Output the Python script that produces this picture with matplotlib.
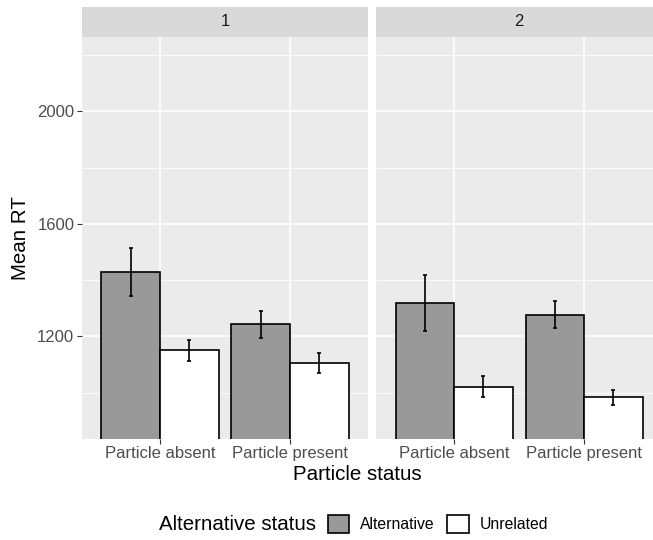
import numpy as np
import matplotlib.pyplot as plt
from matplotlib.patches import Patch

plt.rcParams['font.family'] = ['Liberation Sans', 'DejaVu Sans']

# data
particle = ['Particle absent', 'Particle present']
panels = ['1', '2']
groups = ['Alternative', 'Unrelated']
alt_mean = [[1428, 1243], [1319, 1277]]
alt_err = [[85, 48], [101, 48]]
unr_mean = [[1150, 1106], [1021, 983]]
unr_err = [[36, 35], [37, 26]]
y_ticks = [1200, 1600, 2000]
y_minor = [1000, 1400, 1800, 2200]

W, H = 653, 540
fig = plt.figure(figsize=(W / 100, H / 100), dpi=100)


def rect(x0, y0, x1, y1):
    return [x0 / W, 1 - y1 / H, (x1 - x0) / W, (y1 - y0) / H]


panel_x = [(82, 368), (376, 662)]
x = np.arange(1, len(particle) + 1)
bw = 0.45

for i, (px0, px1) in enumerate(panel_x):
    ax = fig.add_axes(rect(px0, 37, px1, 439))
    ax.set_facecolor('#EBEBEB')
    ax.set_xlim(0.4, 2.6)
    ax.set_ylim(835, 2265)
    ax.set_yticks(y_ticks)
    ax.set_yticks(y_minor, minor=True)
    ax.set_xticks(x)
    ax.grid(True, which='major', color='white', linewidth=1.1)
    ax.grid(True, which='minor', axis='y', color='white', linewidth=0.55)
    ax.set_axisbelow(True)
    for s in ax.spines.values():
        s.set_visible(False)
    ax.bar(x - bw / 2, alt_mean[i], width=bw, color='#999999',
           edgecolor='black', linewidth=1.2, zorder=2)
    ax.bar(x + bw / 2, unr_mean[i], width=bw, color='white',
           edgecolor='black', linewidth=1.2, zorder=2)
    ax.errorbar(x - bw / 2, alt_mean[i], yerr=alt_err[i], fmt='none',
                ecolor='black', elinewidth=1.2, capsize=1.6, capthick=1.2, zorder=3)
    ax.errorbar(x + bw / 2, unr_mean[i], yerr=unr_err[i], fmt='none',
                ecolor='black', elinewidth=1.2, capsize=1.6, capthick=1.2, zorder=3)
    ax.set_xticklabels(particle, fontsize=12, color='#4D4D4D')
    ax.tick_params(axis='both', which='major', color='#333333', length=3.5, width=0.8)
    ax.tick_params(axis='y', which='minor', length=0)
    ax.tick_params(axis='x', pad=1.5)
    ax.tick_params(axis='y', pad=2)
    if i == 0:
        ax.set_yticklabels([str(t) for t in y_ticks], fontsize=12, color='#4D4D4D')
    else:
        ax.tick_params(axis='y', which='major', length=0, labelleft=False)

    # facet strip
    sx = fig.add_axes(rect(px0, 7, px1, 37))
    sx.set_facecolor('#D9D9D9')
    sx.set_xticks([])
    sx.set_yticks([])
    for s in sx.spines.values():
        s.set_visible(False)
    sx.text(0.5, 0.5, panels[i], ha='center', va='center', fontsize=12,
            color='#1A1A1A', transform=sx.transAxes)

fig.text(20 / W, 1 - 238 / H, 'Mean RT', rotation=90, ha='center', va='center',
         fontsize=14.8)
fig.text(357 / W, 1 - 475 / H, 'Particle status', ha='center', va='center',
         fontsize=14.8)

# legend
fig.text(159 / W, 1 - 524 / H, 'Alternative status', ha='left', va='center',
         fontsize=14.8)
handles = [Patch(facecolor='#999999', edgecolor='black', linewidth=1.2),
           Patch(facecolor='white', edgecolor='black', linewidth=1.2)]
fig.legend(handles, groups, loc='center left', bbox_to_anchor=(328 / W, 1 - 524 / H),
           ncol=2, frameon=False, fontsize=11.3, handlelength=1.35, handleheight=1.45,
           handletextpad=0.7, columnspacing=0.8, borderpad=0, borderaxespad=0)

fig.savefig('out.png', dpi=100)
